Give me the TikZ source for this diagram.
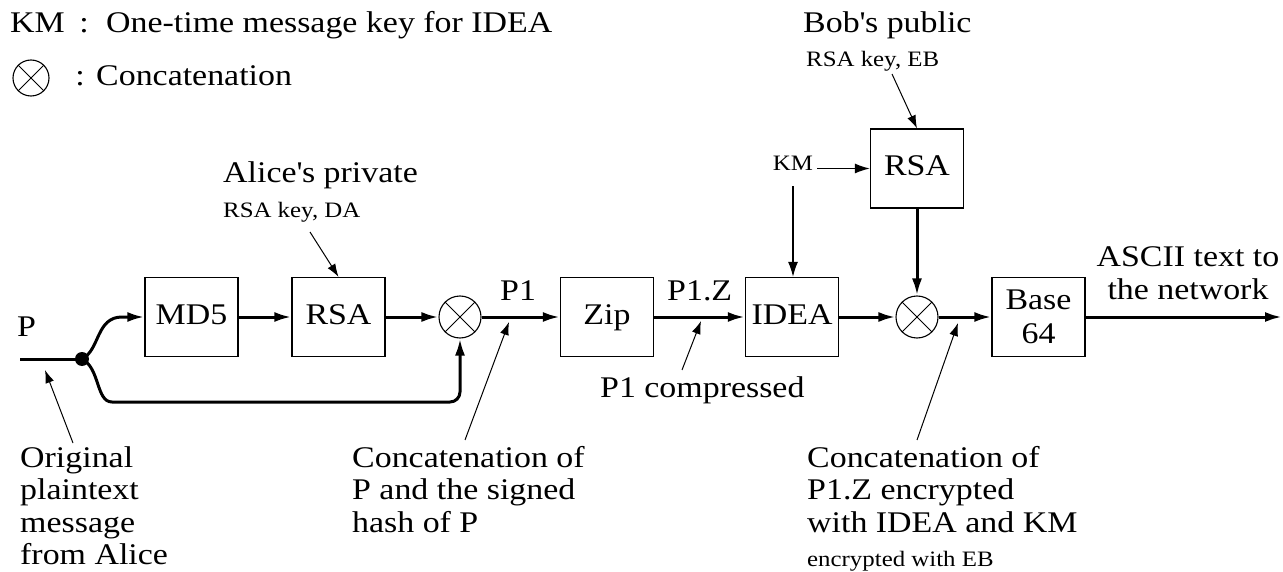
\documentclass[tikz,border=0pt]{standalone}
\usepackage{fontspec}
\setmainfont{Liberation Serif}[FakeStretch=1.13]
\usetikzlibrary{arrows.meta}
\newcommand\cln[2]{\hbox to #1{\hfil #2\hfil}}
\begin{document}
\begin{tikzpicture}[x=1pt,y=-1pt,
  big/.style={font=\fontsize{30}{32.5}\selectfont, inner sep=0pt},
  small/.style={font=\fontsize{22}{24}\selectfont, inner sep=0pt},
  box/.style={draw, line width=1.3pt, minimum width=93pt, minimum height=79pt, inner sep=0pt, font=\fontsize{30}{34}\selectfont, align=center},
  box1/.style={box, text height=20pt, text depth=6pt},
  cat/.style={draw, circle, line width=1.1pt, minimum size=42pt, inner sep=0pt},
  flow/.style={line width=3pt, -{Latex[length=17pt,width=10pt]}},
  note/.style={line width=1pt, -{Latex[length=13pt,width=9pt]}},
  keyarrow/.style={line width=1.3pt, -{Latex[length=15pt,width=10pt]}},
  cross/.style={line width=1pt},
]
\useasboundingbox (0,0) rectangle (1283,572);

% legend
\node[big, anchor=base west] (kmdef) at (10,33) {KM};
\node[big, anchor=base] (col1) at (84,33) {:};
\node[big, anchor=base west] (kmtext) at (106,33) {One-time message key for IDEA};
\node[cat, minimum size=36pt] (lc) at (31,78) {};
\draw[cross] (lc.north east) -- (lc.south west) (lc.north west) -- (lc.south east);
\node[big, anchor=base] (col2) at (80,86) {:};
\node[big, anchor=base west] (cattext) at (96,86) {Concatenation};

% boxes
\node[box1] (md5) at (191.5,317) {MD5};
\node[box1] (rsa1) at (338.5,317) {RSA};
\node[cat] (c1) at (460,317) {};
\draw[cross] (c1.north east) -- (c1.south west) (c1.north west) -- (c1.south east);
\node[box1] (zip) at (607,317) {Zip};
\node[box1] (idea) at (792,317) {IDEA};
\node[cat] (c2) at (917,317) {};
\draw[cross] (c2.north east) -- (c2.south west) (c2.north west) -- (c2.south east);
\node[box] (b64) at (1038.5,317) {Base\\64};
\node[box1] (rsa2) at (917,168.5) {RSA};
\node[fill, circle, inner sep=0pt, minimum size=14pt] (dot) at (82,359) {};

% labels
\node[big, anchor=base west] (alice) at (223,183) {Alice\textquotesingle s private};
\node[small, anchor=base west] (da) at (223,218) {RSA key, DA};
\node[big, anchor=base west] (bob) at (803,33) {Bob\textquotesingle s public};
\node[small, anchor=base west] (eb) at (806,67) {RSA key, EB};
\node[small, anchor=base] (km) at (793,171) {KM};
\node[big, anchor=base west] (plab) at (17,336) {P};
\node[big, anchor=base west] (p1) at (500,300) {P1};
\node[big, anchor=base west] (p1z) at (667,300) {P1.Z};
\node[big, anchor=base west] (p1c) at (600,397) {P1 compressed};
\node[big, anchor=base] (ascii) at (1188,267) {\vtop{\cln{190pt}{ASCII text to}\cln{190pt}{the network}}};
\node[big, anchor=base west] (orig) at (20,467) {\vtop{\hbox{Original}\hbox{plaintext}\hbox{message}\hbox{from Alice}}};
\node[big, anchor=base west] (cat1) at (352,467) {\vtop{\hbox{Concatenation of}\hbox{P and the signed}\hbox{hash of P}}};
\node[big, anchor=base west] (cat2) at (807,467) {\vtop{\hbox{Concatenation of}\hbox{P1.Z encrypted}\hbox{with IDEA and KM}}};
\node[small, anchor=base west] (cat2b) at (807,566) {encrypted with EB};

% coordinates
\coordinate (pin) at (20,359);
\coordinate (up) at (122,317);
\coordinate (low) at (122,402);
\coordinate (out) at (1282,317);
\coordinate (a1s) at (73,443);  \coordinate (a1e) at (45,370);
\coordinate (a2s) at (465,440); \coordinate (a2e) at (509,322);
\coordinate (a3s) at (682,370); \coordinate (a3e) at (701,321);
\coordinate (a4s) at (917,440); \coordinate (a4e) at (958,323);
\coordinate (das) at (310,232);
\coordinate (ebs) at (892,74);

% main flow
\draw[line width=3pt] (pin) -- (dot.center);
\draw[flow] (dot.center) .. controls (100,350) and (96,317) .. (up) -- (md5.west);
\draw[flow, rounded corners=10pt] (dot.center) .. controls (100,368) and (96,402) .. (low) -- (c1 |- low) -- (c1.south);
\draw[flow] (md5) -- (rsa1);
\draw[flow] (rsa1) -- (c1);
\draw[flow] (c1) -- (zip);
\draw[flow] (zip) -- (idea);
\draw[flow] (idea) -- (c2);
\draw[flow] (c2) -- (b64);
\draw[flow] (b64) -- (out);
\draw[flow] (rsa2) -- (c2);

% keys
\draw[keyarrow] ([xshift=4pt]km.east |- rsa2.west) -- (rsa2.west);
\draw[keyarrow] ([yshift=-15pt]km.south) -- (km.south |- idea.north);
\draw[note] (das) -- (rsa1.north);
\draw[note] (ebs) -- (rsa2.north);

% annotations
\draw[note] (a1s) -- (a1e);
\draw[note] (a2s) -- (a2e);
\draw[note] (a3s) -- (a3e);
\draw[note] (a4s) -- (a4e);
\end{tikzpicture}
\end{document}
